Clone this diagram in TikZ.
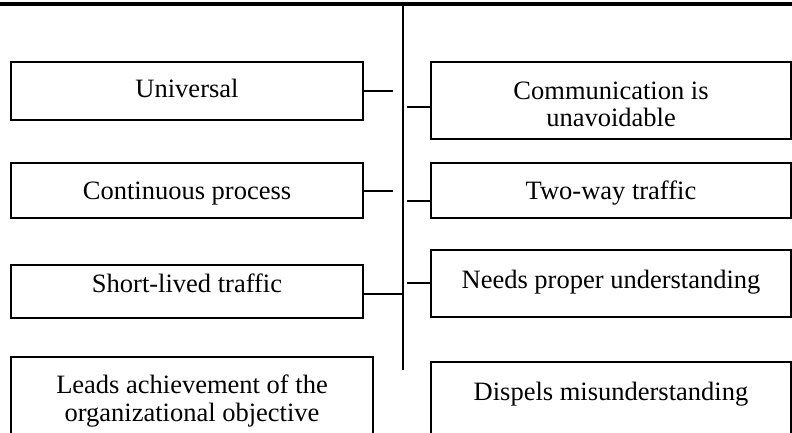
\documentclass[tikz,border=0pt]{standalone}
\usepackage{fontspec}
\setmainfont{Liberation Serif}
\newcommand\boxfont{\fontsize{26.5pt}{27.5pt}\selectfont}
\begin{document}
\begin{tikzpicture}[x=1pt,y=-1pt,
  box/.style={draw, line width=2pt, inner sep=0pt, align=center, font=\boxfont},
  lbox/.style={box, minimum width=352pt},
  rbox/.style={box, minimum width=360pt},
  one/.style={text height=17.4pt, text depth=#1},
  link/.style={line width=1.3pt},
  spine/.style={line width=2pt}]
\useasboundingbox (0,0) rectangle (792,433);
\clip (0,0) rectangle (792,433);
% top bar
\fill (0,2) rectangle (792,6.5);
% boxes on the left
\node[lbox, one=4pt, minimum height=58pt] (U) at (187,91) {Universal};
\node[lbox, one=0pt, minimum height=55pt] (C) at (187,190.5) {Continuous process};
\node[lbox, one=15pt, minimum height=53pt] (S) at (187,291.5) {Short-lived traffic};
\node[box, minimum width=362pt, minimum height=88pt] (L) at (192,401) {Leads achievement of the\\organizational objective};
% boxes on the right
\node[rbox, text height=52.3pt, minimum height=77pt] (M) at (611,100.5) {Communication is\\unavoidable};
\node[rbox, one=0pt, minimum height=55pt] (T) at (611,190.5) {Two-way traffic};
\node[rbox, one=7pt, minimum height=67pt] (N) at (611,283.5) {Needs proper understanding};
\node[rbox, one=16pt, minimum height=76pt] (D) at (611,400) {Dispels misunderstanding};
% spine
\coordinate (top) at (403,6);
\coordinate (bot) at (403,370);
\draw[spine] (top) -- (bot);
% left connectors
\coordinate (uE) at (393,91);
\coordinate (cE) at (393,191);
\coordinate (sJ) at (403,294);
\draw[link] (U.east) -- (U.east -| uE);
\draw[link] (C.east |- cE) -- (cE);
\draw[link] (S.east |- sJ) -- (sJ);
% right connectors
\coordinate (mS) at (407,107);
\coordinate (tS) at (407,201);
\coordinate (nS) at (407,283);
\draw[link] (mS) -- (M.west |- mS);
\draw[link] (tS) -- (T.west |- tS);
\draw[link] (nS) -- (N.west |- nS);
\end{tikzpicture}
\end{document}
